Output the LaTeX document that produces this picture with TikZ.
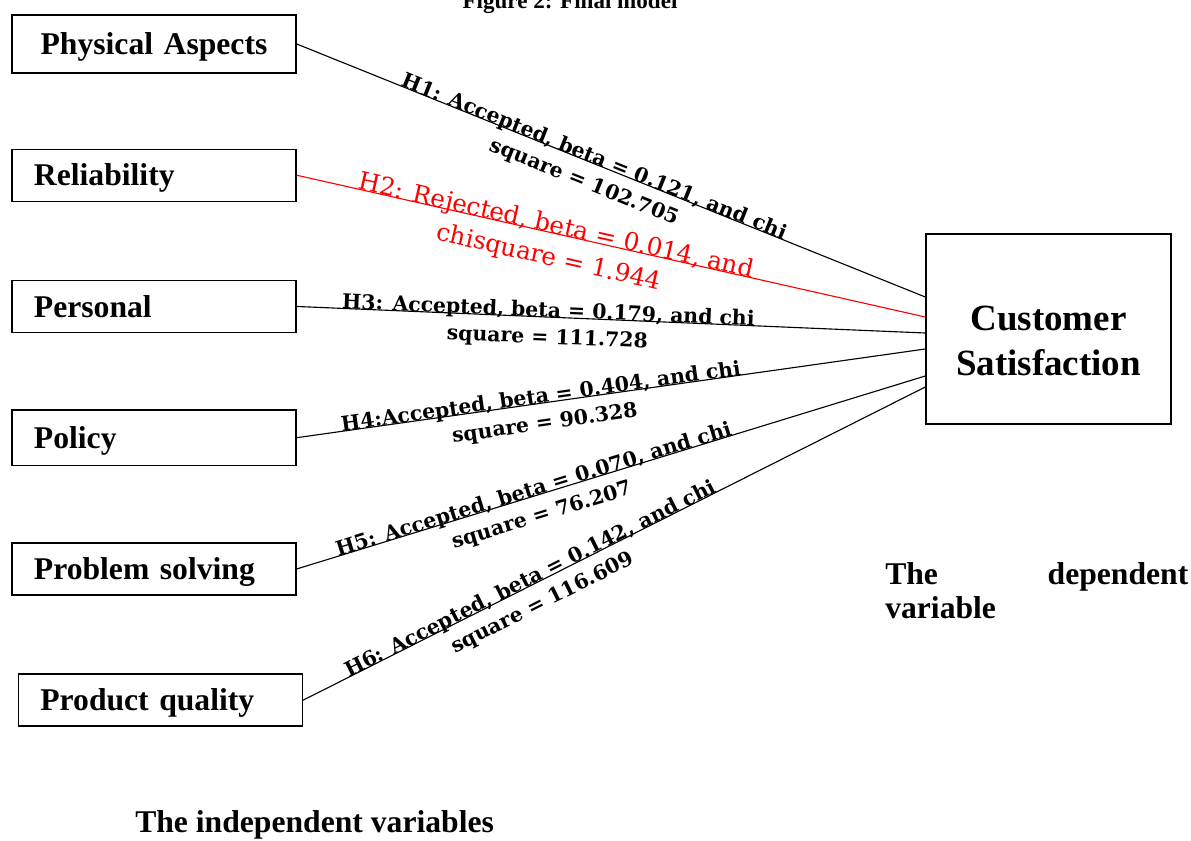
\documentclass[tikz,border=0pt]{standalone}
\usepackage{fontspec}
\setmainfont{Liberation Serif}
\newfontfamily\hypfont{DejaVu Serif}
\usetikzlibrary{positioning, calc}
\hyphenpenalty=10000
\exhyphenpenalty=10000

\tikzset{
  varbox/.style = {rectangle, draw=black, line width=1pt, minimum height=1.3cm, text width=6cm, inner xsep=0.55cm, align=left, text height=15pt, text depth=0pt, font=\fontsize{22.5}{26}\selectfont\bfseries},
  depbox/.style = {rectangle, draw=black, line width=1pt, minimum width=6.125cm, minimum height=4.75cm, align=center, text height=66pt, text depth=0pt, font=\fontsize{26.3}{32}\selectfont\bfseries},
  note/.style = {inner sep=0pt, font=\fontsize{22.5}{24.2}\selectfont\bfseries},
  link/.style = {line width=0.8pt},
  hyp/.style = {sloped, anchor=base, yshift=-19pt, align=center, inner sep=0pt, font=\hypfont\bfseries\fontsize{14.5}{19}\selectfont},
  rej/.style = {hyp, yshift=-4pt, text=red, font=\hypfont\fontsize{17.5}{23}\selectfont}
}

\begin{document}
\begin{tikzpicture}[x=0.025cm, y=-0.025cm, node distance=3.28cm]
  \clip (0,0) rectangle (1191,841);

  \node (title) [anchor=base, font=\fontsize{16.4}{18}\selectfont\bfseries] at (570,9) {Figure 2: Final model};

  % independent variables
  \node (pa) [varbox, align=center, minimum height=1.45cm] at (154,44) {Physical Aspects};
  \node (rel) [varbox, below of=pa] {Reliability};
  \node (per) [varbox, below of=rel] {Personal};
  \node (pol) [varbox, below of=per, minimum height=1.375cm] {Policy};
  \node (prob) [varbox, below of=pol] {Problem solving};
  \node (prod) [varbox, below of=prob, xshift=0.16cm] {Product quality};

  % dependent variable
  \node (cs) [depbox] at (1048.5,329) {Customer\\Satisfaction};

  \draw [link] (pa.east) -- node[hyp, pos=0.47] {H1: Accepted, beta = 0.121, and chi\\square = 102.705} ($(cs.west)+(0,-32)$);
  \draw [link, red] (rel.east) -- node[rej, pos=0.41] {H2: Rejected, beta = 0.014, and\\chisquare = 1.944} ($(cs.west)+(0,-12)$);
  \draw [link] (per.east) -- node[hyp, pos=0.40] {H3: Accepted, beta = 0.179, and chi\\square = 111.728} ($(cs.west)+(0,4)$);
  \draw [link] (pol.east) -- node[hyp, pos=0.39] {H4:Accepted, beta = 0.404, and chi\\square = 90.328} ($(cs.west)+(0,20)$);
  \draw [link] (prob.east) -- node[hyp, pos=0.38] {H5: Accepted, beta = 0.070, and chi\\square = 76.207} ($(cs.west)+(0,47)$);
  \draw [link] (prod.east) -- node[hyp, pos=0.37] {H6: Accepted, beta = 0.142, and chi\\square = 116.609} ($(cs.west)+(0,58)$);

  \node (dep) [note, anchor=base west, text width=7.575cm, align=justify] at (885,584) {The dependent variable};
  \node (indep) [note, anchor=base west] at (135,832) {The independent variables};
\end{tikzpicture}
\end{document}
